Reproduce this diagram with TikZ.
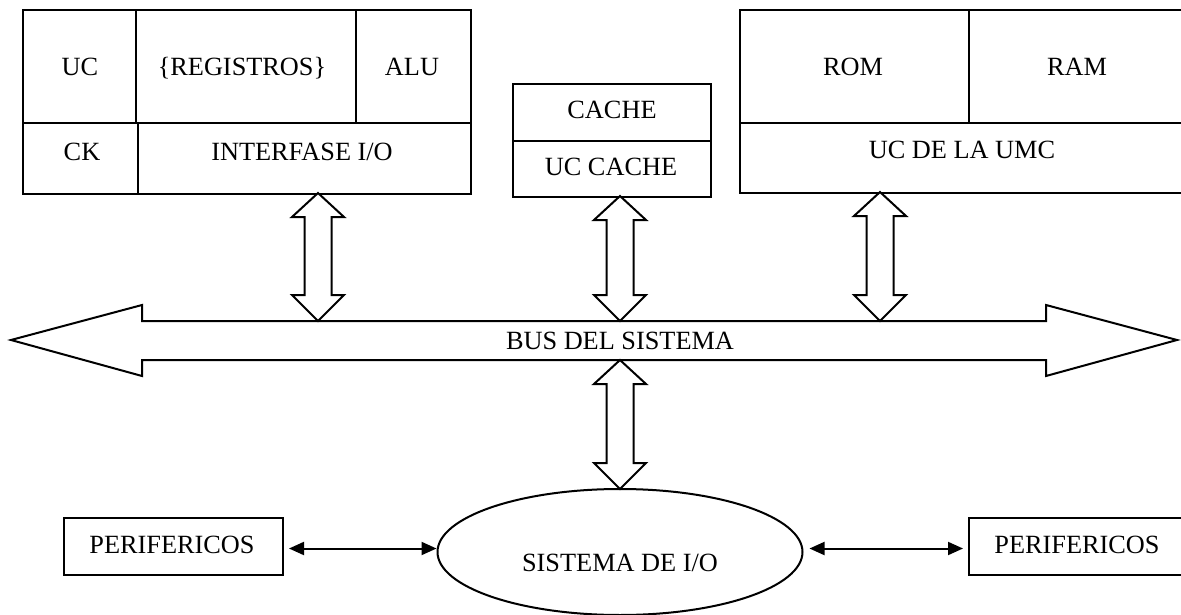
\documentclass[tikz,border=0pt]{standalone}
\usepackage{fontspec}
\setmainfont{Liberation Serif}
\usetikzlibrary{arrows.meta,shapes.geometric}
\tikzset{
 cell/.style={draw, line width=2pt, rectangle, inner sep=0pt, anchor=north west},
 lbl/.style={font=\fontsize{26.3}{30}\selectfont, inner sep=0pt, text height=17.4pt, text depth=0pt},
 dblarrow/.style={draw, line width=2pt, fill=white, line join=miter},
 link/.style={line width=2pt, {Triangle[length=15pt,width=13pt]}-{Triangle[length=15pt,width=13pt]}},
}
\newcommand\VDArrow[3]{%
 \draw[dblarrow] (#1,#2) -- ({#1+26},{#2+24}) -- ({#1+13.5},{#2+24}) -- ({#1+13.5},{#3-26})
   -- ({#1+26},{#3-26}) -- (#1,#3) -- ({#1-26},{#3-26}) -- ({#1-13.5},{#3-26})
   -- ({#1-13.5},{#2+24}) -- ({#1-26},{#2+24}) -- cycle;}
\begin{document}
\begin{tikzpicture}[x=1pt,y=-1pt]
\useasboundingbox (0,0) rectangle (1181,615);
% CPU
\node[cell, minimum width=113pt, minimum height=113pt] (uc) at (22,9) {};
\node[cell, minimum width=220pt, minimum height=113pt] (reg) at (135,9) {};
\node[cell, minimum width=115pt, minimum height=113pt] (alu) at (355,9) {};
\node[cell, minimum width=115pt, minimum height=71pt] (ck) at (22,122) {};
\node[cell, minimum width=333pt, minimum height=71pt] (iface) at (137,122) {};
\node[lbl] (tuc) at (80,67) {UC};
\node[lbl] (treg) at (242,67) {\{REGISTROS\}};
\node[lbl] (talu) at (412,67) {ALU};
\node[lbl] (tck) at (82,152) {CK};
\node[lbl] (tiface) at (302,152) {INTERFASE I/O};
% Cache
\node[cell, minimum width=198pt, minimum height=57pt] (cache) at (512,83) {};
\node[cell, minimum width=198pt, minimum height=56pt] (uccache) at (512,140) {};
\node[lbl] (tcache) at (612,110) {CACHE};
\node[lbl] (tuccache) at (611,167) {UC CACHE};
% Memory
\node[cell, minimum width=229pt, minimum height=113pt] (rom) at (739,9) {};
\node[cell, minimum width=220pt, minimum height=113pt] (ram) at (968,9) {};
\node[cell, minimum width=449pt, minimum height=70pt] (umc) at (739,122) {};
\node[lbl] (trom) at (853,67) {ROM};
\node[lbl] (tram) at (1077,67) {RAM};
\node[lbl] (tumc) at (962,150) {UC DE LA UMC};
% Bus
\draw[dblarrow] (11,340) -- (142,305) -- (142,321) -- (1046,321) -- (1046,305) -- (1177,340)
  -- (1046,376) -- (1046,360) -- (142,360) -- (142,376) -- cycle;
\node[lbl] (tbus) at (620,341) {BUS DEL SISTEMA};
% vertical double arrows
\VDArrow{318}{193}{321}
\VDArrow{620}{196}{321}
\VDArrow{880}{192}{321}
\VDArrow{620}{360}{489}
% I/O system
\node[draw, ellipse, line width=2pt, minimum width=365pt, minimum height=126pt] (io) at (620,552) {};
\node[lbl] (tio) at (620,563) {SISTEMA DE I/O};
\node[cell, minimum width=219pt, minimum height=57pt] (perl) at (63,517) {};
\node[lbl] (tperl) at (172,545) {PERIFERICOS};
\node[cell, minimum width=220pt, minimum height=57pt] (perr) at (968,517) {};
\node[lbl] (tperr) at (1077,545) {PERIFERICOS};
\draw[link] ([xshift=5pt,yshift=-2pt]perl.east) -- ([yshift=-2pt]io.west |- perl.east);
\draw[link] ([xshift=6pt,yshift=-2pt]io.east |- perr.west) -- ([xshift=-5pt,yshift=-2pt]perr.west);
\end{tikzpicture}
\end{document}
